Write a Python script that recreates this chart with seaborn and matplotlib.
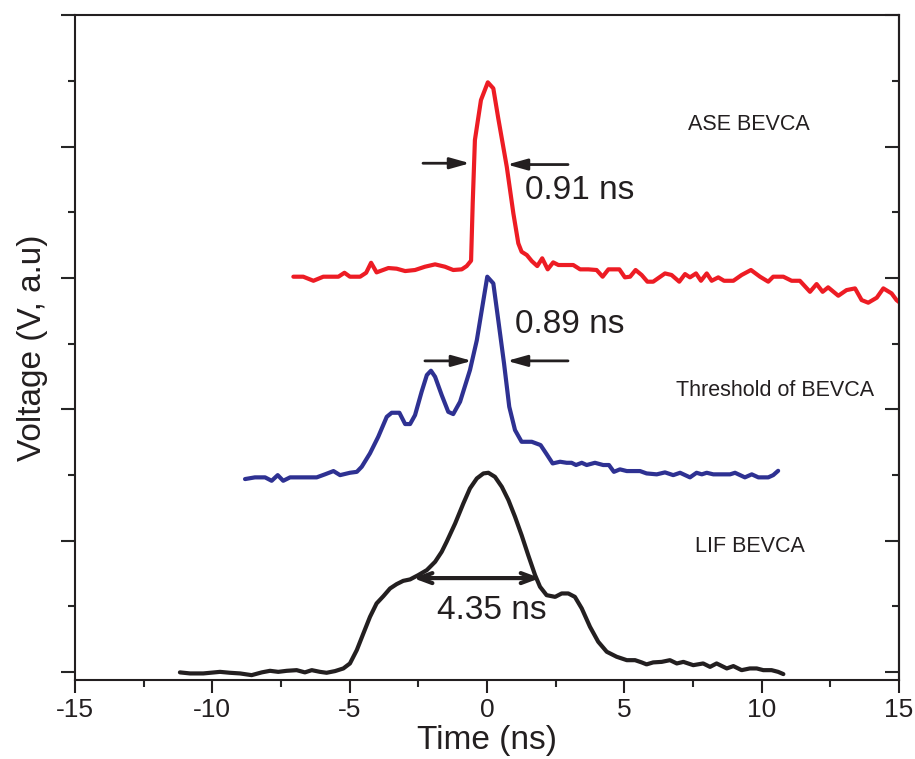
import numpy as np
import pandas as pd
import matplotlib
matplotlib.use("Agg")
import matplotlib.pyplot as plt
import seaborn as sns
from matplotlib.ticker import MultipleLocator

# ---------------- data ----------------
ase_t = [-7.05, -6.69, -6.32, -5.96, -5.41, -5.19, -4.99, -4.62, -4.40, -4.22, -4.02, -3.59, -3.29,
         -2.98, -2.62, -2.26, -1.89, -1.53, -1.23, -0.92, -0.74, -0.58, -0.52, -0.44, -0.22, 0.03,
         0.23, 0.41, 0.72, 0.96, 1.14, 1.26, 1.45, 1.63, 1.83, 2.01, 2.21, 2.41, 2.60, 3.14, 3.39,
         3.69, 3.99, 4.21, 4.42, 4.82, 5.02, 5.21, 5.41, 5.63, 5.84, 6.05, 6.48, 6.72, 7.00, 7.21,
         7.39, 7.61, 7.79, 8.00, 8.18, 8.42, 8.63, 8.97, 9.27, 9.61, 9.94, 10.24, 10.42, 10.79,
         11.09, 11.39, 11.76, 12.00, 12.22, 12.42, 12.79, 13.09, 13.40, 13.64, 13.88, 14.19, 14.43,
         14.73, 14.91, 15.05]
ase_v = [3.011, 3.011, 2.980, 3.011, 3.011, 3.041, 3.011, 3.011, 3.041, 3.117, 3.044, 3.077, 3.072,
         3.054, 3.062, 3.087, 3.105, 3.087, 3.062, 3.067, 3.092, 3.133, 3.572, 4.052, 4.356, 4.491,
         4.445, 4.217, 3.848, 3.493, 3.265, 3.201, 3.176, 3.130, 3.092, 3.151, 3.067, 3.120, 3.100,
         3.100, 3.067, 3.067, 3.062, 3.011, 3.067, 3.067, 3.006, 3.011, 3.062, 3.024, 2.973, 2.973,
         3.036, 3.024, 2.973, 3.031, 3.006, 3.036, 2.980, 3.036, 2.980, 3.006, 2.980, 2.980, 3.024,
         3.062, 3.011, 2.973, 3.011, 3.011, 2.980, 2.980, 2.896, 2.955, 2.896, 2.930, 2.866, 2.909,
         2.922, 2.833, 2.813, 2.851, 2.922, 2.884, 2.833, 2.810]

thr_t = [-8.81, -8.45, -8.08, -7.84, -7.62, -7.42, -7.17, -6.20, -5.90, -5.59, -5.35, -4.99, -4.74,
         -4.56, -4.26, -3.96, -3.65, -3.47, -3.19, -2.98, -2.80, -2.62, -2.38, -2.19, -2.04, -1.89,
         -1.65, -1.41, -1.23, -0.98, -0.62, -0.37, -0.19, 0.01, 0.23, 0.41, 0.62, 0.81, 1.02, 1.26,
         1.63, 1.95, 2.17, 2.39, 2.66, 2.90, 3.08, 3.24, 3.45, 3.63, 3.93, 4.23, 4.44, 4.62, 4.84,
         5.09, 5.57, 5.81, 6.18, 6.48, 6.78, 7.03, 7.39, 7.63, 7.82, 8.00, 8.24, 8.85, 9.03, 9.39,
         9.64, 9.88, 10.24, 10.42, 10.60]
thr_v = [1.470, 1.483, 1.483, 1.457, 1.500, 1.457, 1.483, 1.483, 1.506, 1.531, 1.500, 1.518, 1.525,
         1.564, 1.666, 1.792, 1.944, 1.975, 1.975, 1.889, 1.889, 1.957, 2.135, 2.262, 2.295, 2.249,
         2.110, 1.982, 1.965, 2.059, 2.300, 2.528, 2.757, 3.011, 2.960, 2.681, 2.351, 2.021, 1.843,
         1.754, 1.754, 1.729, 1.660, 1.589, 1.602, 1.594, 1.594, 1.577, 1.594, 1.577, 1.594, 1.577,
         1.577, 1.525, 1.544, 1.531, 1.531, 1.513, 1.506, 1.521, 1.500, 1.518, 1.483, 1.518, 1.506,
         1.518, 1.506, 1.506, 1.518, 1.483, 1.506, 1.483, 1.483, 1.500, 1.533]

lif_t = [-11.18, -10.81, -10.33, -9.72, -9.36, -8.99, -8.57, -8.20, -7.90, -7.60, -7.29, -6.93, -6.63,
         -6.38, -6.08, -5.84, -5.53, -5.23, -4.99, -4.74, -4.50, -4.26, -4.02, -3.77, -3.53, -3.29,
         -3.05, -2.80, -2.50, -2.19, -1.89, -1.65, -1.47, -1.16, -0.86, -0.62, -0.37, -0.13, 0.05,
         0.29, 0.54, 0.78, 1.02, 1.26, 1.50, 1.75, 1.93, 2.17, 2.48, 2.72, 2.96, 3.20, 3.45, 3.75,
         4.05, 4.36, 4.72, 5.09, 5.39, 5.63, 5.81, 6.05, 6.36, 6.66, 6.91, 7.15, 7.51, 7.87, 8.12,
         8.36, 8.73, 8.97, 9.27, 9.57, 9.82, 10.06, 10.36, 10.60, 10.79]
lif_v = [-0.002, -0.010, -0.010, 0.002, -0.005, -0.010, -0.023, -0.002, 0.010, 0.002, 0.010, 0.015,
         -0.002, 0.015, 0.002, -0.005, 0.008, 0.028, 0.066, 0.168, 0.295, 0.421, 0.523, 0.579, 0.637,
         0.670, 0.695, 0.706, 0.739, 0.777, 0.840, 0.916, 0.992, 1.132, 1.285, 1.399, 1.475, 1.513,
         1.518, 1.487, 1.411, 1.310, 1.183, 1.043, 0.891, 0.739, 0.650, 0.586, 0.573, 0.599, 0.599,
         0.573, 0.485, 0.345, 0.231, 0.155, 0.117, 0.091, 0.091, 0.074, 0.059, 0.074, 0.078, 0.091,
         0.066, 0.078, 0.053, 0.066, 0.040, 0.066, 0.028, 0.046, 0.015, 0.028, 0.028, 0.015, 0.015,
         0.002, -0.015]

series_labels = ["ASE BEVCA", "Threshold of BEVCA", "LIF BEVCA"]
width_labels = ["0.91 ns", "0.89 ns", "4.35 ns"]
x_ticks = [-15, -10, -5, 0, 5, 10, 15]

RED = "#ED1C24"
BLUE = "#2E3192"
BLACK = "#231F20"

# ---------------- style ----------------
sns.set_theme(style="ticks")
plt.rcParams["font.family"] = ["Liberation Sans", "DejaVu Sans"]
plt.rcParams["axes.unicode_minus"] = False
plt.rcParams["axes.linewidth"] = 1.5
plt.rcParams["axes.edgecolor"] = BLACK

fig = plt.figure(figsize=(9.15, 7.59), dpi=100)
ax = fig.add_axes([75 / 915, 1 - 680 / 759, 824 / 915, (680 - 15.5) / 759])

for t, v, c in [(ase_t, ase_v, RED), (thr_t, thr_v, BLUE), (lif_t, lif_v, BLACK)]:
    df = pd.DataFrame({"t": t, "v": v})
    sns.lineplot(data=df, x="t", y="v", ax=ax, color=c, linewidth=3,
                 estimator=None, sort=False, solid_joinstyle="round", solid_capstyle="round")

ax.set_xlim(-15, 15)
ax.set_ylim(-0.06, 5.0)
ax.set_xticks(x_ticks)
ax.set_xticklabels([str(v) for v in x_ticks])
ax.xaxis.set_minor_locator(MultipleLocator(2.5))
ax.yaxis.set_major_locator(MultipleLocator(1))
ax.yaxis.set_minor_locator(MultipleLocator(0.5))
ax.set_yticklabels([])
ax.tick_params(axis="x", which="major", direction="out", length=9, width=1.5,
               labelsize=19, pad=4, colors=BLACK, top=False)
ax.tick_params(axis="x", which="minor", direction="out", length=5, width=1.5, top=False)
ax.tick_params(axis="y", which="major", direction="out", length=10, width=1.5, right=False)
ax.tick_params(axis="y", which="minor", direction="out", length=5, width=1.5, right=False)
for s in ax.spines.values():
    s.set_visible(True)
    s.set_linewidth(1.5)
    s.set_color(BLACK)

sec = ax.secondary_yaxis("right")
sec.yaxis.set_major_locator(MultipleLocator(1))
sec.yaxis.set_minor_locator(MultipleLocator(0.5))
sec.tick_params(which="major", direction="in", length=10, width=1.5, labelright=False)
sec.tick_params(which="minor", direction="in", length=5, width=1.5)
sec.spines["right"].set_linewidth(1.5)
sec.spines["right"].set_color(BLACK)

ax.set_xlabel("Time (ns)", fontsize=24, color=BLACK, labelpad=2)
ax.set_ylabel("Voltage (V, a.u)", fontsize=24, color=BLACK)
ax.yaxis.set_label_coords(-0.033, 0.5)

# FWHM arrows
filled = dict(arrowstyle="-|>,head_length=1.0,head_width=0.28", color=BLACK, lw=2, shrinkA=0, shrinkB=0)
ax.annotate("", xy=(-0.62, 3.875), xytext=(-2.33, 3.875), arrowprops=filled)
ax.annotate("", xy=(0.73, 3.865), xytext=(2.95, 3.865), arrowprops=filled)
ax.annotate("", xy=(-0.55, 2.37), xytext=(-2.26, 2.37), arrowprops=filled)
ax.annotate("", xy=(0.73, 2.37), xytext=(2.95, 2.37), arrowprops=filled)
ax.annotate("", xy=(-2.69, 0.716), xytext=(1.93, 0.716),
            arrowprops=dict(arrowstyle="<->,head_length=0.8,head_width=0.3", color=BLACK, lw=3,
                            shrinkA=0, shrinkB=0))

ax.text(1.38, 3.67, width_labels[0], fontsize=24, color=BLACK, ha="left", va="center")
ax.text(1.02, 2.65, width_labels[1], fontsize=24, color=BLACK, ha="left", va="center")
ax.text(0.18, 0.47, width_labels[2], fontsize=24, color=BLACK, ha="center", va="center")

ax.text(9.54, 4.17, series_labels[0], fontsize=15.5, color=BLACK, ha="center", va="center")
ax.text(10.48, 2.147, series_labels[1], fontsize=15.5, color=BLACK, ha="center", va="center")
ax.text(9.57, 0.96, series_labels[2], fontsize=15.5, color=BLACK, ha="center", va="center")

fig.savefig("out.png", dpi=100)
